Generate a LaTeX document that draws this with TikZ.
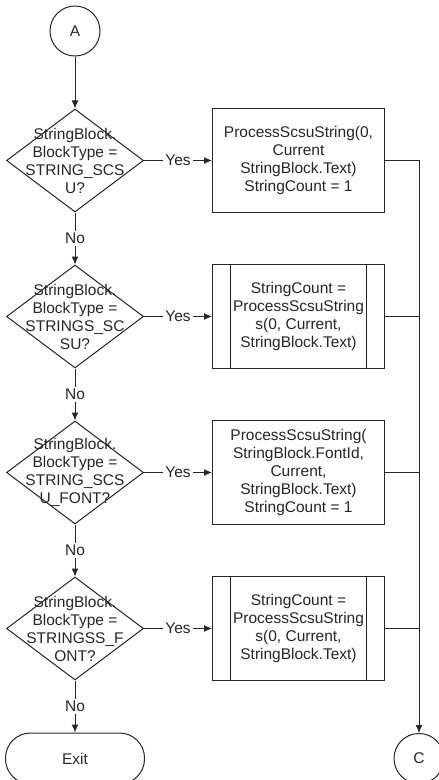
\documentclass[tikz,border=0pt]{standalone}
\usepackage{fontspec}
\setmainfont{Liberation Sans}
\usetikzlibrary{shapes,arrows,arrows.meta,positioning,calc}

\begin{document}
\begin{tikzpicture}[
    node distance=52pt and 68pt,
    every node/.style={font=\fontsize{15.5}{18}\selectfont, text=black!85},
    conn/.style={circle, draw=black!85, line width=1pt, minimum size=50pt,
                 inner sep=0pt},
    decision/.style={diamond, draw=black!85, line width=1pt,
                     minimum width=137pt, minimum height=103pt, inner sep=0pt},
    proc/.style={rectangle, draw=black!85, line width=1pt, minimum width=172pt,
                 minimum height=104pt, align=center, inner sep=2pt},
    subproc/.style={proc, path picture={
        \draw[black!85, line width=1pt]
          ([xshift=18pt]path picture bounding box.north west) --
          ([xshift=18pt]path picture bounding box.south west)
          ([xshift=-18pt]path picture bounding box.north east) --
          ([xshift=-18pt]path picture bounding box.south east);}},
    term/.style={rectangle, rounded corners=25pt, draw=black!85, line width=1pt,
                 minimum width=139pt, minimum height=51pt},
    arrow/.style={-{Latex[length=8pt, width=7pt]}, draw=black!85, line width=1pt},
    link/.style={draw=black!85, line width=1pt},
    lbl/.style={fill=white, inner sep=2pt},
  ]
    \useasboundingbox (0,0) rectangle (439pt,-780pt);

    \node[conn] (A) at (75pt,-31pt) {A};

    \node[decision, below=of A,
          label={[align=center]center:StringBlock.\\BlockType =\\STRING\_SCS\\U?}] (d1) {};
    \node[decision, below=of d1,
          label={[align=center]center:StringBlock.\\BlockType =\\STRINGS\_SC\\SU?}] (d2) {};
    \node[decision, below=of d2,
          label={[align=center]center:StringBlock.\\BlockType =\\STRING\_SCS\\U\_FONT?}] (d3) {};
    \node[decision, below=of d3,
          label={[align=center]center:StringBlock.\\BlockType =\\STRINGSS\_F\\ONT?}] (d4) {};
    \node[term, below=of d4] (exit) {Exit};

    \node[proc, right=of d1] (b1) {ProcessScsuString(0,\\Current\\StringBlock.Text)\\StringCount = 1};
    \node[subproc, right=of d2] (b2) {StringCount =\\ProcessScsuString\\s(0, Current,\\StringBlock.Text)};
    \node[proc, right=of d3] (b3) {ProcessScsuString(\\StringBlock.FontId,\\Current,\\StringBlock.Text)\\StringCount = 1};
    \node[subproc, right=of d4] (b4) {StringCount =\\ProcessScsuString\\s(0, Current,\\StringBlock.Text)};

    \node[conn] (C) at ([xshift=34pt]exit.center -| b4.east) {C};

    \draw[arrow] (A)  -- (d1);
    \draw[arrow] (d1) -- node[lbl] {No} (d2);
    \draw[arrow] (d2) -- node[lbl] {No} (d3);
    \draw[arrow] (d3) -- node[lbl] {No} (d4);
    \draw[arrow] (d4) -- node[lbl] {No} (exit);

    \draw[arrow] (d1) -- node[lbl] {Yes} (b1);
    \draw[arrow] (d2) -- node[lbl] {Yes} (b2);
    \draw[arrow] (d3) -- node[lbl] {Yes} (b3);
    \draw[arrow] (d4) -- node[lbl] {Yes} (b4);

    \draw[arrow] (b1) -| (C);
    \draw[link] (b2) -- (b2 -| C);
    \draw[link] (b3) -- (b3 -| C);
    \draw[link] (b4) -- (b4 -| C);
  \end{tikzpicture}
\end{document}
